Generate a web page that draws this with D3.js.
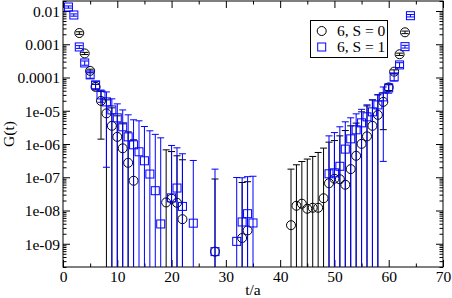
<!DOCTYPE html>
<html><head><meta charset="utf-8">
<script src="https://cdn.jsdelivr.net/npm/d3@7/dist/d3.min.js"></script>
<style>body{margin:0;background:#fff}svg{display:block}text{font-family:"Liberation Serif","Times New Roman",serif}</style>
</head><body><svg id="c" width="452" height="298"></svg>
<script>
// S = 0 series (black circles)
const s0T  = [3,4,5,6,7,8,9,10,11,12,13,19,20,21,22,28,33,34,42,43,44,45,46,47,48,49,50,51,52,53,54,55,56,57,58,59,60,61,62,63];
const s0G  = [2.18e-3,5.30e-4,1.58e-4,5.22e-5,1.98e-5,8.35e-6,3.52e-6,1.64e-6,7.43e-7,2.72e-7,7.85e-8,1.75e-8,2.26e-8,1.71e-8,5.48e-9,5.80e-10,1.49e-9,2.52e-9,3.62e-9,1.39e-8,1.60e-8,1.13e-8,1.21e-8,1.21e-8,2.34e-8,6.61e-8,9.02e-8,8.71e-8,5.96e-8,1.76e-7,4.42e-7,1.01e-6,1.70e-6,3.52e-6,7.53e-6,1.85e-5,5.05e-5,1.50e-4,5.01e-4,2.29e-3];
const s0E  = [2e-4,4e-5,2e-5,1e-5,1.84e-5,1.29e-5,8.7e-6,5.4e-6,3.3e-6,2.05e-6,1.26e-6,6.5e-7,5.7e-7,4.25e-7,3.3e-7,8.8e-8,6.8e-8,7.1e-8,1.72e-7,2.23e-7,2.82e-7,3.41e-7,4.1e-7,5.44e-7,7.3e-7,1.07e-6,1.18e-6,1.67e-6,2.48e-6,3.34e-6,3.81e-6,8.26e-6,1.23e-5,1.77e-5,2.25e-5,1.58e-5,1e-5,2e-5,4e-5,2e-4];
// S = 1 series (blue squares)
const s1T  = [1,2,3,4,5,6,7,8,9,10,11,12,13,14,15,16,17,18,20,21,22,24,28,32,33,34,35,49,50,51,52,53,54,55,56,57,58,59,60,61,62,63,64];
const s1G  = [1.32e-2,7.59e-3,8.30e-4,2.74e-4,1.20e-4,6.00e-5,3.00e-5,1.85e-5,1.06e-5,6.12e-6,3.29e-6,1.64e-6,9.46e-7,5.83e-7,3.13e-7,1.25e-7,3.94e-8,3.94e-9,2.4e-8,4.74e-8,1.33e-8,4.16e-9,5.8e-10,1.18e-9,4.52e-9,8.02e-9,4.22e-9,1.27e-7,1.36e-7,2.14e-7,7.03e-7,1.43e-6,2.67e-6,4.33e-6,6.56e-6,9.27e-6,1.50e-5,2.61e-5,4.88e-5,1.04e-4,2.39e-4,8.48e-4,7.23e-3];
const s1E  = [1e-3,6e-4,8e-5,4e-5,2.5e-5,1.5e-5,1.2e-5,1.83e-5,1.22e-5,1.0e-5,7.3e-6,5.9e-6,4.4e-6,4.4e-6,3.05e-6,2.37e-6,1.91e-6,1.53e-6,8.8e-7,7.2e-7,4.95e-7,3.16e-7,1.75e-7,9.7e-8,9.2e-8,9.6e-8,1.03e-7,1.63e-6,2.07e-6,3.08e-6,3.95e-6,4.7e-6,5.4e-6,6.7e-6,8.5e-6,1.19e-5,1.55e-5,2.58e-5,1.5e-5,2.5e-5,4e-5,8e-5,6e-4];

const xTicks = [0,10,20,30,40,50,60,70];
const xMinor = [5,15,25,35,45,55,65];
const yTicks = [1e-2,1e-3,1e-4,1e-5,1e-6,1e-7,1e-8,1e-9];
const yTickLabels = ["0.01","0.001","0.0001","1e-05","1e-06","1e-07","1e-08","1e-09"];
const seriesNames = ["6, S = 0","6, S = 1"];
const xTitle = "t/a", yTitle = "G(t)";

const L=63,R=443,T=1,B=267;
const svg=d3.select("#c");
const x=d3.scaleLinear().domain([0,70]).range([L,R]);
const y=d3.scaleLog().domain([2e-10,2e-2]).range([B,T]);
const yMinor=[];
for(let d=-10;d<=-2;d++)for(let k=2;k<=9;k++){const v=k*Math.pow(10,d);if(v>=2e-10&&v<=2e-2)yMinor.push(v);}

svg.append("defs").append("clipPath").attr("id","clip").append("rect").attr("x",L).attr("y",T).attr("width",R-L).attr("height",B-T);

function axis(gen,tr,vals,size,fmt){
  const g=svg.append("g").attr("transform",tr).call(gen.tickValues(vals).tickSizeInner(size).tickSizeOuter(0).tickFormat(fmt));
  g.select(".domain").remove();
  g.selectAll("line").attr("stroke","#000");
  return g;
}
const lab=(arr,vals)=>(d=>arr[vals.indexOf(d)]);
// bottom
const gb=axis(d3.axisBottom(x),`translate(0,${B})`,xTicks,-7,d3.format("d"));
gb.selectAll("text").attr("y",15).attr("dy","0").style("font-size","15.5px").attr("fill","#000").attr("font-family",null);
axis(d3.axisBottom(x),`translate(0,${B})`,xMinor,-3.5,()=>"");
// top
axis(d3.axisTop(x),`translate(0,${T})`,xTicks,-7,()=>"");
axis(d3.axisTop(x),`translate(0,${T})`,xMinor,-3.5,()=>"");
// left
const gl=axis(d3.axisLeft(y),`translate(${L},0)`,yTicks,-7,lab(yTickLabels,yTicks));
gl.selectAll("text").attr("x",-3).attr("dy","0.34em").style("font-size","15.5px").attr("fill","#000").attr("font-family",null);
axis(d3.axisLeft(y),`translate(${L},0)`,yMinor,-3.5,()=>"");
// right
axis(d3.axisRight(y),`translate(${R},0)`,yTicks,-7,()=>"");
axis(d3.axisRight(y),`translate(${R},0)`,yMinor,-3.5,()=>"");

svg.append("rect").attr("x",L).attr("y",T).attr("width",R-L).attr("height",B-T).attr("fill","none").attr("stroke","#000").attr("stroke-width",1);

const plot=svg.append("g").attr("clip-path","url(#clip)");
function drawSeries(ts,gs,es,color,shape){
  const g=plot.append("g");
  const cap=3.5;
  ts.forEach((t,i)=>{
    const G=gs[i],E=es[i];
    const hi=y(G+E);
    const loV=G-E;
    const lo=loV>2e-10?y(loV):B+2;
    const cx=x(t);
    g.append("line").attr("x1",cx).attr("x2",cx).attr("y1",hi).attr("y2",lo).attr("stroke",color).attr("stroke-width",1);
    g.append("line").attr("x1",cx-cap).attr("x2",cx+cap).attr("y1",hi).attr("y2",hi).attr("stroke",color).attr("stroke-width",1);
    if(loV>2e-10)g.append("line").attr("x1",cx-cap).attr("x2",cx+cap).attr("y1",lo).attr("y2",lo).attr("stroke",color).attr("stroke-width",1);
  });
  ts.forEach((t,i)=>{
    const cx=x(t),cy=y(gs[i]);
    if(shape==="circle")g.append("circle").attr("cx",cx).attr("cy",cy).attr("r",4.5).attr("fill","none").attr("stroke",color).attr("stroke-width",1);
    else g.append("rect").attr("x",cx-4).attr("y",cy-4).attr("width",8).attr("height",8).attr("fill","none").attr("stroke",color).attr("stroke-width",1);
  });
}
drawSeries(s0T,s0G,s0E,"#000","circle");
drawSeries(s1T,s1G,s1E,"#0000ff","square");

// legend
const lg=svg.append("g");
lg.append("rect").attr("x",310.5).attr("y",20.5).attr("width",77).attr("height",37).attr("fill","#fff").attr("stroke","#000");
lg.append("circle").attr("cx",321.7).attr("cy",31).attr("r",4.5).attr("fill","none").attr("stroke","#000");
lg.append("rect").attr("x",317.7).attr("y",43).attr("width",8).attr("height",8).attr("fill","none").attr("stroke","#0000ff");
lg.append("text").attr("x",337).attr("y",36).style("font-size","15.5px").text(seriesNames[0]);
lg.append("text").attr("x",337).attr("y",52).style("font-size","15.5px").text(seriesNames[1]);

svg.append("text").attr("x",(L+R)/2).attr("y",295).attr("text-anchor","middle").style("font-size","15.5px").text(xTitle);
svg.append("text").attr("transform",`translate(14,${(T+B)/2}) rotate(-90)`).attr("text-anchor","middle").style("font-size","15.5px").text(yTitle);
</script></body></html>
